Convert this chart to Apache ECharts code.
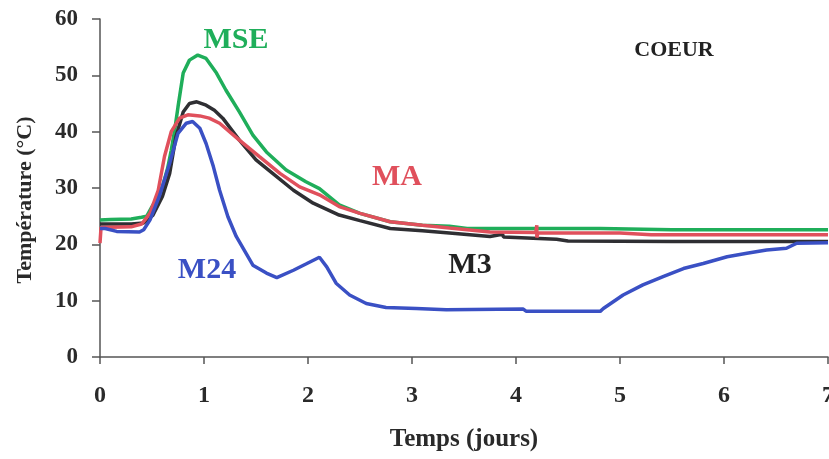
<!DOCTYPE html>
<html>
<head>
<meta charset="utf-8">
<script src="https://cdn.jsdelivr.net/npm/echarts@6/dist/echarts.min.js"></script>
<style>
html,body{margin:0;padding:0;background:#fff;}
#chart{width:829px;height:459px;}
</style>
</head>
<body>
<div id="chart"></div>
<script>
// x tick labels (days)
const xTicks = [0, 1, 2, 3, 4, 5, 6, 7];
const yTicks = [0, 10, 20, 30, 40, 50, 60];

// MSE (green)
const mseDays  = [0, 0.1, 0.3, 0.4, 0.45, 0.5, 0.55, 0.6, 0.65, 0.685, 0.72, 0.75, 0.8, 0.86, 0.94, 1.02, 1.12, 1.21, 1.34, 1.47, 1.6, 1.79, 1.98, 2.11, 2.3, 2.5, 2.79, 3.1, 3.36, 3.53, 4.0, 4.5, 4.81, 4.82, 5.5, 6.0, 7.0];
const mseTemps = [24.3, 24.4, 24.5, 24.8, 25.0, 26.7, 28.2, 30.2, 33.5, 36.7, 40.5, 44.4, 50.4, 52.7, 53.6, 53.0, 50.4, 47.4, 43.5, 39.4, 36.4, 33.2, 31.1, 29.9, 27.0, 25.5, 24.0, 23.4, 23.2, 22.8, 22.8, 22.8, 22.8, 22.6, 22.6, 22.6, 22.6];

// M3 (black)
const m3Days  = [0, 0.3, 0.42, 0.51, 0.6, 0.67, 0.73, 0.8, 0.86, 0.93, 1.02, 1.1, 1.18, 1.34, 1.5, 1.66, 1.86, 2.05, 2.3, 2.5, 2.79, 3.1, 3.36, 3.75, 3.87, 3.88, 4.39, 4.5, 5.5, 7.0];
const m3Temps = [23.6, 23.6, 23.8, 25.2, 28.5, 32.6, 39.1, 43.5, 45.0, 45.3, 44.7, 43.8, 42.4, 38.5, 35.0, 32.6, 29.6, 27.3, 25.2, 24.2, 22.8, 22.4, 22.0, 21.4, 21.8, 21.3, 20.9, 20.6, 20.5, 20.5];

// MA (red)
const maDays  = [0, 0.01, 0.3, 0.4, 0.48, 0.56, 0.62, 0.685, 0.765, 0.845, 0.96, 1.05, 1.15, 1.34, 1.53, 1.73, 1.92, 2.11, 2.3, 2.5, 2.79, 3.1, 3.36, 3.75, 4.19, 4.2, 4.2, 4.21, 4.39, 5.0, 5.3, 7.0];
const maTemps = [20.2, 23.0, 23.1, 23.6, 25.5, 29.6, 35.6, 40.0, 42.4, 43.0, 42.8, 42.4, 41.5, 38.5, 35.6, 32.6, 30.2, 28.8, 26.7, 25.5, 24.0, 23.4, 22.9, 22.2, 22.1, 23.4, 21.2, 22.0, 22.0, 22.0, 21.7, 21.7];

// M24 (blue)
const m24Days  = [0, 0.05, 0.16, 0.38, 0.42, 0.48, 0.57, 0.67, 0.75, 0.83, 0.89, 0.96, 1.02, 1.09, 1.15, 1.23, 1.31, 1.47, 1.6, 1.7, 1.86, 1.98, 2.11, 2.18, 2.27, 2.4, 2.56, 2.75, 3.04, 3.33, 4.07, 4.1, 4.81, 4.84, 5.03, 5.22, 5.42, 5.61, 5.8, 6.03, 6.22, 6.41, 6.6, 6.7, 7.0];
const m24Temps = [22.8, 22.8, 22.3, 22.2, 22.6, 24.3, 28.5, 34.4, 39.7, 41.5, 41.8, 40.6, 37.9, 33.8, 29.6, 24.9, 21.4, 16.3, 14.9, 14.1, 15.4, 16.5, 17.7, 16.0, 13.1, 11.0, 9.5, 8.8, 8.6, 8.4, 8.5, 8.1, 8.1, 8.6, 11.0, 12.8, 14.3, 15.7, 16.6, 17.8, 18.4, 19.0, 19.3, 20.2, 20.3];

const pairs = (xs, ys) => xs.map((x, i) => [x, ys[i]]);

const FONT = '"Liberation Serif", "Times New Roman", serif';
const chart = echarts.init(document.getElementById('chart'));

function mk(name, xs, ys, color) {
  return {
    name: name, type: 'line', data: pairs(xs, ys), showSymbol: false, smooth: false,
    lineStyle: { color: color, width: 3.5 }, itemStyle: { color: color }, animation: false
  };
}

chart.setOption({
  backgroundColor: '#ffffff',
  animation: false,
  grid: { left: 100, right: 1, top: 19, bottom: 102, containLabel: false, outerBoundsMode: 'none' },
  xAxis: {
    type: 'value', min: xTicks[0], max: xTicks[xTicks.length - 1], interval: 1,
    name: 'Temps (jours)', nameLocation: 'middle', nameGap: 70,
    nameTextStyle: { fontFamily: FONT, fontWeight: 'bold', fontSize: 25, color: '#2a2a2a' },
    axisLine: { show: true, lineStyle: { color: '#555', width: 1.5 } },
    axisTick: { show: true, inside: false, length: 7, lineStyle: { color: '#555', width: 1.5 } },
    axisLabel: { margin: 27, fontFamily: FONT, fontWeight: 'bold', fontSize: 24, color: '#2a2a2a' },
    splitLine: { show: false }
  },
  yAxis: {
    type: 'value', min: yTicks[0], max: yTicks[yTicks.length - 1], interval: 10,
    axisLine: { show: true, lineStyle: { color: '#555', width: 1.5 } },
    axisTick: { show: true, inside: false, length: 8, lineStyle: { color: '#555', width: 1.5 } },
    axisLabel: { margin: 22, fontFamily: FONT, fontWeight: 'bold', fontSize: 23, color: '#2a2a2a' },
    splitLine: { show: false }
  },
  graphic: [
    { type: 'text', x: 25, y: 200, rotation: Math.PI / 2,
      style: { text: 'Température (°C)', fontFamily: FONT, fontWeight: 'bold', fontSize: 22, fill: '#2a2a2a', textAlign: 'center', textVerticalAlign: 'middle' } },
    { type: 'text', x: 236, y: 40, style: { text: 'MSE', fontFamily: FONT, fontWeight: 'bold', fontSize: 30, fill: '#1fae5a', textAlign: 'center', textVerticalAlign: 'middle' } },
    { type: 'text', x: 397, y: 177, style: { text: 'MA', fontFamily: FONT, fontWeight: 'bold', fontSize: 30, fill: '#e0505c', textAlign: 'center', textVerticalAlign: 'middle' } },
    { type: 'text', x: 207, y: 270, style: { text: 'M24', fontFamily: FONT, fontWeight: 'bold', fontSize: 30, fill: '#3a50c4', textAlign: 'center', textVerticalAlign: 'middle' } },
    { type: 'text', x: 470, y: 265, style: { text: 'M3', fontFamily: FONT, fontWeight: 'bold', fontSize: 30, fill: '#222', textAlign: 'center', textVerticalAlign: 'middle' } },
    { type: 'text', x: 674, y: 50, style: { text: 'COEUR', fontFamily: FONT, fontWeight: 'bold', fontSize: 22, fill: '#222', textAlign: 'center', textVerticalAlign: 'middle' } }
  ],
  series: [
    mk('MSE', mseDays, mseTemps, '#1fae5a'),
    mk('M3', m3Days, m3Temps, '#2f2f33'),
    mk('MA', maDays, maTemps, '#e0505c'),
    mk('M24', m24Days, m24Temps, '#3a50c4')
  ]
});
</script>
</body>
</html>
